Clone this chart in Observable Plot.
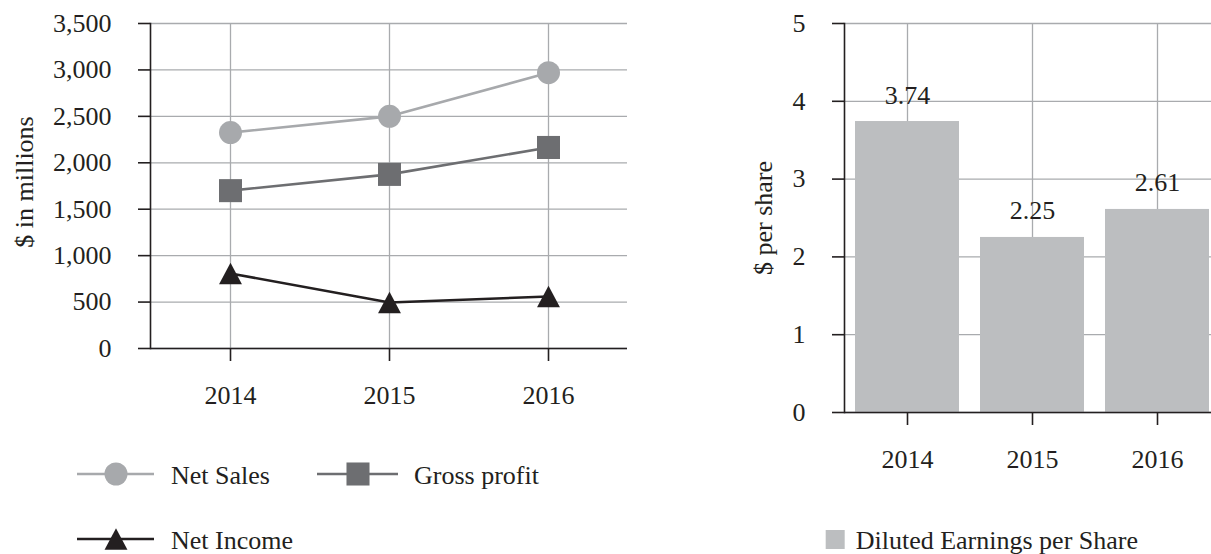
<!DOCTYPE html>
<html><head><meta charset="utf-8">
<script src="https://cdn.jsdelivr.net/npm/d3@7"></script>
<script src="https://cdn.jsdelivr.net/npm/@observablehq/plot@0.6"></script>
<style>
html,body{margin:0;padding:0;background:#fff;overflow:hidden}
#wrap{position:relative;width:1211px;height:554px;overflow:hidden;font-family:"Liberation Serif",serif;color:#231f20}
#wrap > svg, #wrap > figure{position:absolute;margin:0}
</style></head><body><div id="wrap"></div>
<script>
// ---- data ----
const years = ["2014", "2015", "2016"];
const netSales = [2325, 2500, 2970];
const grossProfit = [1700, 1875, 2165];
const netIncome = [808, 495, 560];
const eps = [3.74, 2.25, 2.61];
const yTicksLeft = [0, 500, 1000, 1500, 2000, 2500, 3000, 3500];
const yTicksRight = [0, 1, 2, 3, 4, 5];
const seriesNames = ["Net Sales", "Gross profit", "Net Income"];
const seriesColors = ["#a7a9ac", "#6d6e71", "#231f20"];
const seriesR = [11.5, 13, 8.8];
const barLabel = "Diluted Earnings per Share";
const barColor = "#bcbec0";
const leftTitle = "$ in millions";
const rightTitle = "$ per share";

// triangle marker centred on its bounding box (as in the reference)
const triangleMarker = {
  draw(ctx, size) {
    const r = Math.sqrt(size / Math.PI), w = 1.3 * r, h = 1.23 * r;
    ctx.moveTo(0, -h); ctx.lineTo(w, h); ctx.lineTo(-w, h); ctx.closePath();
  }
};
const seriesSymbols = [d3.symbolCircle, d3.symbolSquare, triangleMarker];

const seriesValues = [netSales, grossProfit, netIncome];
const rows = [];
seriesNames.forEach((s, i) => years.forEach((y, j) => rows.push({series: s, year: y, value: seriesValues[i][j]})));
const bars = years.map((y, j) => ({year: y, value: eps[j]}));

const FONT = "Liberation Serif";
const FS = 26;
const INK = "#231f20";
const GRID = "#a9abae";

const wrap = document.getElementById("wrap");

// ---- left chart ----
const left = Plot.plot({
  width: 640, height: 420,
  marginLeft: 150, marginRight: 13, marginTop: 23, marginBottom: 72,
  style: {fontFamily: FONT, fontSize: FS + "px", color: INK, background: "transparent", overflow: "visible"},
  x: {type: "point", domain: years, padding: 0.5, label: null},
  y: {domain: [0, 3500], label: null},
  color: {domain: seriesNames, range: seriesColors},
  symbol: {domain: seriesNames, range: seriesSymbols},
  marks: [
    Plot.gridY(yTicksLeft, {stroke: GRID, strokeOpacity: 1, strokeWidth: 1.3}),
    Plot.gridX(years, {stroke: GRID, strokeOpacity: 1, strokeWidth: 1.3}),
    Plot.ruleY([0], {stroke: INK, strokeWidth: 1.6}),
    Plot.frame({anchor: "left", stroke: INK, strokeWidth: 1.6}),
    Plot.axisY(yTicksLeft, {tickSize: 12, tickPadding: 27, tickFormat: d3.format(","), label: null, strokeWidth: 1.6}),
    Plot.axisX(years, {tickSize: 13, tickPadding: 24, label: null, strokeWidth: 1.6}),
    Plot.line(rows, {x: "year", y: "value", z: "series", stroke: "series", strokeWidth: 2.6}),
    ...seriesNames.map((s, i) => Plot.dot(rows, {
      filter: d => d.series === s, x: "year", y: "value",
      symbol: "series", fill: "series", r: seriesR[i], stroke: "none"
    }))
  ]
});
left.style.left = "0px"; left.style.top = "0px";
wrap.appendChild(left);

// ---- right chart ----
const right = Plot.plot({
  width: 471, height: 480,
  marginLeft: 104, marginRight: 0, marginTop: 23, marginBottom: 68,
  style: {fontFamily: FONT, fontSize: FS + "px", color: INK, background: "transparent"},
  x: {type: "band", domain: years, range: [104, 479], paddingInner: 0.168, paddingOuter: 0.084, label: null},
  y: {domain: [0, 5], label: null},
  marks: [
    Plot.gridY(yTicksRight, {stroke: GRID, strokeOpacity: 1, strokeWidth: 1.3}),
    Plot.gridX(years, {stroke: GRID, strokeOpacity: 1, strokeWidth: 1.3}),
    Plot.barY(bars, {x: "year", y: "value", fill: barColor}),
    Plot.ruleY([0], {stroke: INK, strokeWidth: 1.6}),
    Plot.frame({anchor: "left", stroke: INK, strokeWidth: 1.6}),
    Plot.axisY(yTicksRight, {tickSize: 12, tickPadding: 27, tickFormat: d3.format("d"), label: null, strokeWidth: 1.6}),
    Plot.axisX(years, {tickSize: 13, tickPadding: 24, label: null, strokeWidth: 1.6}),
    Plot.text(bars, {x: "year", y: "value", text: d => d3.format(".2f")(d.value), lineAnchor: "bottom", dy: -18, fill: INK, fontSize: FS})
  ]
});
right.style.left = "740px"; right.style.top = "0px";
wrap.appendChild(right);

// ---- titles and legends (overlay) ----
const ov = d3.select(wrap).append("svg")
  .attr("width", 1211).attr("height", 554)
  .style("left", "0px").style("top", "0px")
  .style("font-family", FONT).style("font-size", FS + "px").attr("fill", INK);

ov.append("text").attr("transform", "translate(33,182) rotate(-90)")
  .attr("text-anchor", "middle").text(leftTitle);
ov.append("text").attr("transform", "translate(772,218) rotate(-90)")
  .attr("text-anchor", "middle").text(rightTitle);

const legItems = [
  {x0: 77, x1: 154, cx: 116, y: 474, tx: 171},
  {x0: 317, x1: 398, cx: 358, y: 474, tx: 414},
  {x0: 77, x1: 154, cx: 116, y: 539, tx: 171}
];
seriesNames.forEach((s, i) => {
  const p = legItems[i];
  ov.append("line").attr("x1", p.x0).attr("x2", p.x1).attr("y1", p.y).attr("y2", p.y)
    .attr("stroke", seriesColors[i]).attr("stroke-width", 2.6);
  ov.append("path").attr("transform", `translate(${p.cx},${p.y})`)
    .attr("d", d3.symbol(seriesSymbols[i], Math.PI * seriesR[i] * seriesR[i])())
    .attr("fill", seriesColors[i]);
  ov.append("text").attr("x", p.tx).attr("y", p.y + 10).text(s);
});
const barText = ov.append("text").attr("x", 1138).attr("y", 549).attr("text-anchor", "end").text(barLabel);
const tw = barText.node().getComputedTextLength();
const tx0 = 1138 - tw;
ov.append("rect").attr("x", tx0 - 30).attr("y", 530).attr("width", 19).attr("height", 19).attr("fill", barColor);
</script></body></html>
